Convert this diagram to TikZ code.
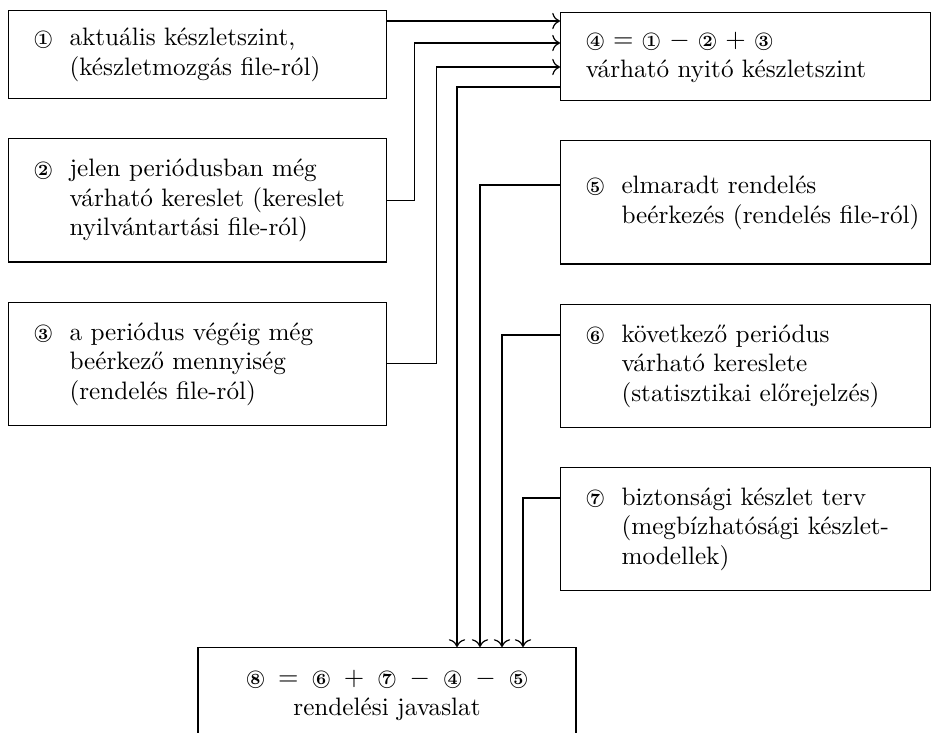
\documentclass[tikz,border=0pt]{standalone}
\usepackage{graphicx}
\usepackage{tikz}
\usetikzlibrary{arrows.meta, positioning, calc}

% circled number and spaced operator
\newcommand{\cnum}[1]{\ooalign{\hfil\raisebox{0.4pt}{\fontsize{6.5}{6.5}\selectfont\bfseries #1}\hfil\crcr
  \raisebox{0.7pt}{\scalebox{0.72}{$\bigcirc$}}}}
\newcommand{\op}[2][4.2pt]{\hspace{#1}$#2$\hspace{#1}}

\begin{document}
\begin{tikzpicture}[
    x=0.4167pt, y=-0.4167pt,
    line width=0.5pt,
    node distance=16.25pt and 1.0cm,
    box/.style={rectangle, draw, inner xsep=10.5pt, inner ysep=3pt, align=left,
      font=\fontsize{10.5}{12.3}\selectfont},
    lbox/.style={box, text width=136.5pt},
    rbox/.style={box, text width=133.2pt},
    shortbox/.style={minimum height=36.7pt},
    tallbox/.style={minimum height=51.3pt},
    sumbox/.style={box, minimum width=157.5pt, minimum height=40pt, align=center},
    >={Computer Modern Rightarrow[scale=1.2]},
]
\clip (0,0) rectangle (932,732);

% Left column
\node[lbox, shortbox, anchor=north west] (b1) at (8,10) {%
  \begin{tabular}{@{}l@{\hspace{7pt}}l@{}}
  \cnum{1} & aktuális készletszint,\\
           & (készletmozgás file-ról)
  \end{tabular}};
\node[lbox, tallbox, below=of b1] (b2) {%
  \begin{tabular}{@{}l@{\hspace{7pt}}l@{}}
  \cnum{2} & jelen periódusban még\\
           & várható kereslet (kereslet\\
           & nyilvántartási file-ról)
  \end{tabular}};
\node[lbox, tallbox, below=of b2] (b3) {%
  \begin{tabular}{@{}l@{\hspace{7pt}}l@{}}
  \cnum{3} & a periódus végéig még\\
           & beérkező mennyiség\\
           & (rendelés file-ról)
  \end{tabular}};

% Right column
\node[rbox, shortbox, anchor=north west] (b4) at (560,12) {%
  \begin{tabular}{@{}l@{}}
  \cnum{4}\op[3.5pt]{=}\cnum{1}\op[3.5pt]{-}\cnum{2}\op[3.5pt]{+}\cnum{3}\\
  várható nyitó készletszint
  \end{tabular}};
\node[rbox, tallbox, below=of b4] (b5) {%
  \begin{tabular}{@{}l@{\hspace{7pt}}l@{}}
  \cnum{5} & elmaradt rendelés\\
           & beérkezés (rendelés file-ról)
  \end{tabular}};
\node[rbox, tallbox, below=of b5] (b6) {%
  \begin{tabular}{@{}l@{\hspace{7pt}}l@{}}
  \cnum{6} & következő periódus\\
           & várható kereslete\\
           & (statisztikai előrejelzés)
  \end{tabular}};
\node[rbox, tallbox, below=of b6] (b7) {%
  \begin{tabular}{@{}l@{\hspace{7pt}}l@{}}
  \cnum{7} & biztonsági készlet terv\\
           & (megbízhatósági készlet-\\
           & modellek)
  \end{tabular}};

% Result
\node[sumbox, anchor=north] (b8) at (387,647) {%
  \cnum{8}\op[5.5pt]{=}\cnum{6}\op[5.5pt]{+}\cnum{7}\op[5.5pt]{-}\cnum{4}\op[5.5pt]{-}\cnum{5}\\
  rendelési javaslat};

% levels of the horizontal runs
\coordinate (r1) at (0,21);
\coordinate (r2) at (0,43);
\coordinate (r3) at (0,67);
\coordinate (r4) at (0,87);
\coordinate (r5) at (0,185);
\coordinate (r6) at (0,335);
\coordinate (r7) at (0,498);
% arrow ends on the result box
\coordinate (d4) at ($(b8.north)+(70,0)$);
\coordinate (d5) at ($(b8.north)+(93,0)$);
\coordinate (d6) at ($(b8.north)+(115,0)$);
\coordinate (d7) at ($(b8.north)+(136,0)$);

% Inputs of 4
\draw[->] (b1.east |- r1) -- (b4.west |- r1);
\draw[->] (b2.east) -- ++(27,0) |- (b4.west |- r2);
\draw[->] (b3.east) -- ++(49,0) |- (b4.west |- r3);

% Inputs of 8
\draw[->] (b4.west |- r4) -| (d4);
\draw[->] (b5.west |- r5) -| (d5);
\draw[->] (b6.west |- r6) -| (d6);
\draw[->] (b7.west |- r7) -| (d7);

\end{tikzpicture}
\end{document}
